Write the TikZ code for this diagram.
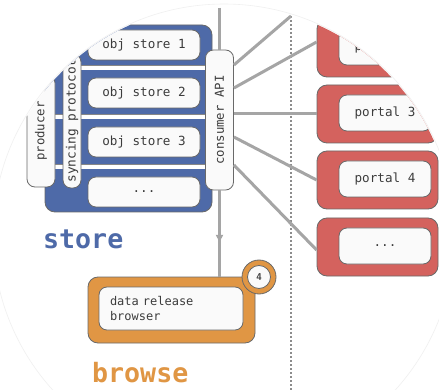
\documentclass[tikz,border=0pt]{standalone}
\usepackage{fontspec}
\newfontfamily\monof{DejaVu Sans Mono}
\usetikzlibrary{arrows.meta,decorations.markings,calc}
\definecolor{storeblue}{RGB}{78,106,168}
\definecolor{portalred}{RGB}{212,98,94}
\definecolor{browseorange}{RGB}{224,150,68}
\definecolor{linegray}{RGB}{165,165,165}
\definecolor{edgegray}{RGB}{105,105,105}
\definecolor{boxwhite}{RGB}{250,250,250}
\definecolor{txtgray}{RGB}{60,60,60}
\tikzset{
  container/.style={draw=edgegray, line width=0.8pt, rounded corners=10pt, inner sep=0pt},
  wbox/.style={draw=edgegray, fill=boxwhite, line width=0.8pt, rounded corners=8pt, inner sep=0pt,
    text=txtgray, font=\monof\fontsize{12.6}{15}\selectfont},
  vbox/.style={wbox, rotate=90, font=\monof\fontsize{12.3}{14}\selectfont},
  stripe/.style={draw=edgegray!80, line width=0.6pt, double=white, double distance=3.8pt},
  link/.style={draw=linegray, line width=3pt},
  dotline/.style={draw=linegray!85!black, line width=1.6pt, dash pattern=on 1.6pt off 2.4pt},
  biglabel/.style={font=\monof\bfseries\fontsize{26.6}{30}\selectfont, anchor=base west, inner sep=0pt},
  midarrow/.style={postaction={decorate}, decoration={markings,
    mark=at position #1 with {\arrow[linegray]{Latex[length=9pt,width=8pt]}}}}
}
\begin{document}
\begin{tikzpicture}[x=1pt,y=-1pt]
\fill[white] (0,0) rectangle (439,390);
\useasboundingbox (0,0) rectangle (439,390);
\draw[gray!12, line width=0.6pt] (224,235) circle [radius=231pt];
\begin{scope}
\clip (224,235) circle [radius=230pt];
% positions
\coordinate (prodc) at (41,131);
\coordinate (syncc) at (72,121);
\coordinate (apic) at (219.5,120);
\coordinate (s1) at (0,68);
\coordinate (s2) at (0,117);
\coordinate (s3) at (0,167);
\coordinate (vt) at (0,8);
\coordinate (dtop) at (291,16);
\coordinate (dbot) at (291,392);
% store container
\node[container, fill=storeblue, minimum width=167pt, minimum height=187pt] (store) at (128.5,118.5) {};
% stripes between producer, syncing protocol and consumer API
\draw[stripe] (prodc |- s1) -- (apic |- s1);
\draw[stripe] (prodc |- s2) -- (apic |- s2);
\draw[stripe] (prodc |- s3) -- (apic |- s3);
% object stores
\node[wbox, minimum width=112pt, minimum height=30pt] (os1) at (144,45) {obj store 1};
\node[wbox, minimum width=112pt, minimum height=30pt] (os2) at (144,93) {obj store 2};
\node[wbox, minimum width=112pt, minimum height=30pt] (os3) at (144,142) {obj store 3};
\node[wbox, minimum width=112pt, minimum height=30pt] (os4) at (144,192) {...};
% side boxes
\node[vbox, minimum width=112pt, minimum height=28pt] (prod) at (prodc) {producer};
\node[vbox, minimum width=134pt, minimum height=18pt, font=\monof\fontsize{12.8}{14}\selectfont] (sync) at (syncc) {syncing protocol};
\node[vbox, minimum width=140pt, minimum height=28pt] (api) at (apic) {consumer API};
% portals
\node[container, fill=portalred, minimum width=121pt, minimum height=58pt] (r1) at (377.5,48) {};
\node[wbox, minimum width=92pt, minimum height=36pt] (p2) at (385,47) {portal 2};
\node[container, fill=portalred, minimum width=121pt, minimum height=58pt] (r2) at (377.5,114) {};
\node[wbox, minimum width=92pt, minimum height=36pt] (p3) at (385,113) {portal 3};
\node[container, fill=portalred, minimum width=121pt, minimum height=58pt] (r3) at (377.5,180) {};
\node[wbox, minimum width=92pt, minimum height=36pt] (p4) at (385,179) {portal 4};
\node[container, fill=portalred, minimum width=121pt, minimum height=58pt] (r4) at (377.5,247) {};
\node[wbox, minimum width=92pt, minimum height=36pt] (p5) at (385,246) {...};
% browse
\node[container, fill=browseorange, minimum width=167pt, minimum height=66pt] (browse) at (171.5,310) {};
\node[wbox, minimum width=144pt, minimum height=43pt, text width=122pt, inner xsep=11pt, align=left,
  font=\monof\fontsize{12}{15}\selectfont] (drb) at (171,308.5) {data release\\browser};
\node[circle, draw=edgegray, line width=0.8pt, fill=browseorange, minimum size=34pt, inner sep=0pt] (badge) at (259,277) {};
\node[circle, draw=edgegray, line width=0.8pt, fill=boxwhite, minimum size=23pt, inner sep=0pt,
  text=txtgray, font=\sffamily\bfseries\fontsize{10}{11}\selectfont] (badgein) at (badge) {4};
% connectors
\draw[dotline] (dtop) -- (dbot);
\draw[link] (api.east |- vt) -- (api.east);
\draw[link, midarrow=0.62] (api.west) -- (api.west |- browse.north);
\draw[link] (api.south |- 0,65) -- (dtop);
\draw[link] (api.south |- 0,88) -- ($(r1.west)+(0,-6)$);
\draw[link] (api.south |- r2.west) -- (r2.west);
\draw[link] (api.south |- 0,137) -- (r3.west);
\draw[link] (api.south |- 0,165) -- ($(r4.west)+(0,3)$);
% labels
\node[biglabel, text=storeblue] (storelbl) at (43,248) {store};
\node[biglabel, text=browseorange] (browselbl) at (92,382) {browse};
\end{scope}
\end{tikzpicture}
\end{document}
